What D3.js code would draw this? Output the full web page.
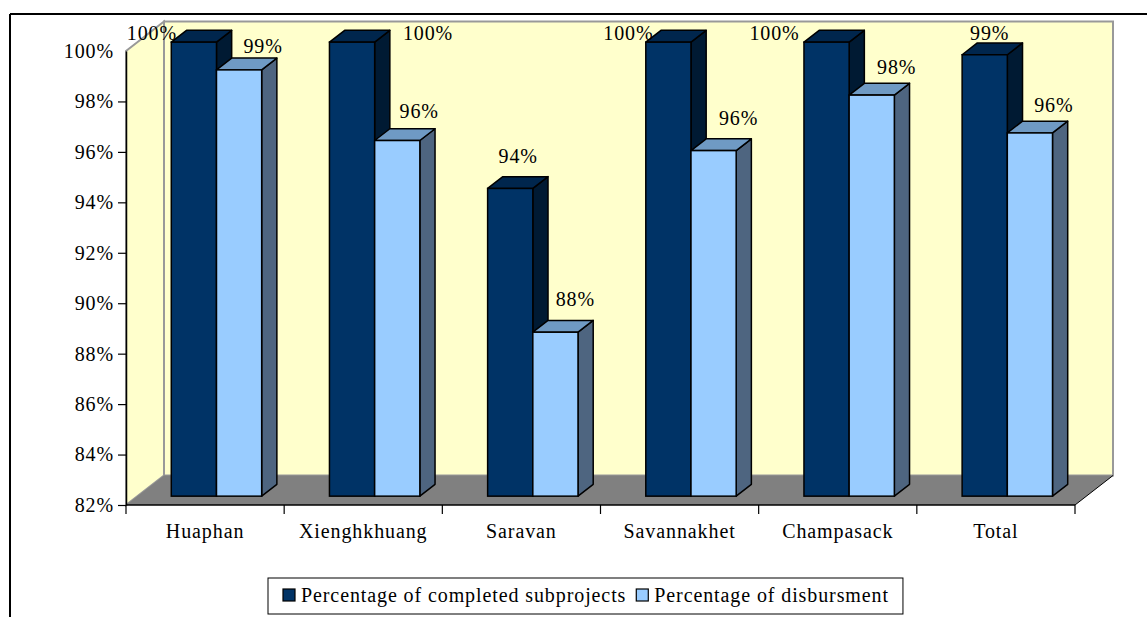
<!DOCTYPE html>
<html>
<head>
<meta charset="utf-8">
<script src="https://cdn.jsdelivr.net/npm/d3@7"></script>
<style>
  html, body { margin: 0; padding: 0; background: #fff; }
  svg { display: block; }
  text { font-family: "Liberation Serif", "Times New Roman", serif; fill: #000; letter-spacing: 0.9px; }
</style>
</head>
<body>
<svg id="chart" width="1147" height="617"></svg>
<script>
// Province-level results
const categories = ["Huaphan", "Xienghkhuang", "Saravan", "Savannakhet", "Champasack", "Total"];
const seriesNames = ["Percentage of completed subprojects", "Percentage of disbursment"];
const completed = [100, 100, 94.2, 100, 100, 99.5];
const disbursed = [98.9, 96.1, 88.5, 95.7, 97.9, 96.4];
const valueLabels = [
  ["100%", "100%", "94%", "100%", "100%", "99%"],
  ["99%", "96%", "88%", "96%", "98%", "96%"]
];
const yTicks = [82, 84, 86, 88, 90, 92, 94, 96, 98, 100];

// Hand-placed label nudges (px) for labels that would crowd the top edge
const labelShiftX = [[-64, 54, -14, -62, -74, -17], [2, 0, -2, 3, 3, 2]];
const labelShiftY = [[0, 0, -3, 0, 0, 0], [5, -1, -4, -4, 1, 1]];

const seriesValues = [completed, disbursed];
const colors = [
  { front: "#003366", top: "#00264d", side: "#001a33" },
  { front: "#99ccff", top: "#6f9ac4", side: "#4e6580" }
];

const svg = d3.select("#chart");

// Front-plane geometry of the 3-D plot box
const left = 126, right = 1075, bottom = 505, topY = 51;
const depth = { x: 38, y: -29.5 };
const barFront = 0.3, barBack = 0.7;

const x = d3.scaleBand().domain(categories).range([left, right]).paddingInner(0).paddingOuter(0);
const xs = d3.scaleBand().domain(d3.range(seriesNames.length)).range([0, x.bandwidth()]).paddingInner(0).paddingOuter(0.75);
const y = d3.scaleLinear().domain([82, 100]).range([bottom, topY]);

const pt = (px, py) => px.toFixed(2) + "," + py.toFixed(2);

// Outer frame
svg.append("line").attr("x1", 10).attr("y1", 14).attr("x2", 1147).attr("y2", 14)
  .attr("stroke", "#000").attr("stroke-width", 2);
svg.append("line").attr("x1", 10).attr("y1", 14).attr("x2", 10).attr("y2", 617)
  .attr("stroke", "#000").attr("stroke-width", 2);

const y100 = y(100), y82 = y(82);
const bx = depth.x, by = depth.y;

// Back wall
svg.append("polygon")
  .attr("points", [pt(left + bx, y100 + by), pt(right + bx, y100 + by), pt(right + bx, y82 + by), pt(left + bx, y82 + by)].join(" "))
  .attr("fill", "#ffffcc").attr("stroke", "#999").attr("stroke-width", 2);
// Side wall
svg.append("polygon")
  .attr("points", [pt(left, y100), pt(left + bx, y100 + by), pt(left + bx, y82 + by), pt(left, y82)].join(" "))
  .attr("fill", "#ffffcc").attr("stroke", "#999").attr("stroke-width", 2);
// Floor
svg.append("polygon")
  .attr("points", [pt(left, y82), pt(right, y82), pt(right + bx, y82 + by), pt(left + bx, y82 + by)].join(" "))
  .attr("fill", "#808080").attr("stroke", "none");
svg.append("line")
  .attr("x1", right).attr("y1", y82).attr("x2", right + bx).attr("y2", y82 + by)
  .attr("stroke", "#000").attr("stroke-width", 1);

// Value axis
const yAxis = svg.append("g")
  .attr("transform", `translate(${left},0)`)
  .call(d3.axisLeft(y).tickValues(yTicks).tickSize(8).tickSizeOuter(0).tickPadding(4).tickFormat(d => d + "%"));
yAxis.select(".domain").attr("stroke", "#000").attr("stroke-width", 1.5);
yAxis.selectAll(".tick line").attr("stroke", "#000").attr("stroke-width", 1.2)
  .attr("display", d => d === 100 ? "none" : null);
yAxis.selectAll(".tick text").attr("font-size", 20).attr("font-family", "Liberation Serif").attr("fill", "#000");

// Category axis
const bounds = categories.map(c => x(c)).concat([right]);
const xAxisG = svg.append("g");
xAxisG.append("line").attr("x1", left).attr("x2", right).attr("y1", y82).attr("y2", y82)
  .attr("stroke", "#000").attr("stroke-width", 1.5);
xAxisG.selectAll("line.tick").data(bounds).join("line").attr("class", "tick")
  .attr("x1", d => d).attr("x2", d => d).attr("y1", y82).attr("y2", y82 + 9)
  .attr("stroke", "#000").attr("stroke-width", 1.2);
xAxisG.selectAll("text").data(categories).join("text")
  .attr("x", d => x(d) + x.bandwidth() / 2).attr("y", 538)
  .attr("text-anchor", "middle").attr("font-size", 20)
  .text(d => d);

// 3-D columns
const fx = depth.x * barFront, fy = depth.y * barFront;
const dx = depth.x * (barBack - barFront), dy = depth.y * (barBack - barFront);
const bars = [];
categories.forEach((c, i) => {
  seriesValues.forEach((vals, s) => {
    bars.push({ c, i, s, v: vals[i] });
  });
});

const barG = svg.append("g");
bars.forEach(b => {
  const x0 = x(b.c) + xs(b.s) + fx;
  const x1 = x0 + xs.bandwidth();
  const yt = y(b.v) + fy;
  const yb = y(82) + fy;
  const col = colors[b.s];
  const g = barG.append("g");
  g.append("polygon").attr("points", [pt(x1, yt), pt(x1 + dx, yt + dy), pt(x1 + dx, yb + dy), pt(x1, yb)].join(" "))
    .attr("fill", col.side).attr("stroke", "#000").attr("stroke-width", 1.5).attr("stroke-linejoin", "round");
  g.append("polygon").attr("points", [pt(x0, yt), pt(x0 + dx, yt + dy), pt(x1 + dx, yt + dy), pt(x1, yt)].join(" "))
    .attr("fill", col.top).attr("stroke", "#000").attr("stroke-width", 1.5).attr("stroke-linejoin", "round");
  g.append("rect").attr("x", x0).attr("y", yt).attr("width", x1 - x0).attr("height", yb - yt)
    .attr("fill", col.front).attr("stroke", "#000").attr("stroke-width", 1.5);
  b.cx = (x0 + x1) / 2;
  b.yt = yt;
});

// Data labels
svg.append("g").selectAll("text").data(bars).join("text")
  .attr("x", b => b.cx + 22 + labelShiftX[b.s][b.i])
  .attr("y", b => Math.max(40, b.yt - 22) + labelShiftY[b.s][b.i])
  .attr("text-anchor", "middle").attr("font-size", 20)
  .text(b => valueLabels[b.s][b.i]);

// Legend
const leg = svg.append("g");
const legBox = leg.append("rect").attr("x", 268).attr("y", 578).attr("width", 632).attr("height", 36)
  .attr("fill", "#fff").attr("stroke", "#000").attr("stroke-width", 1);
let lx = 283;
seriesNames.forEach((name, s) => {
  leg.append("rect").attr("x", lx).attr("y", 589).attr("width", 12).attr("height", 12)
    .attr("fill", colors[s].front).attr("stroke", "#000").attr("stroke-width", 1.2);
  const t = leg.append("text").attr("x", lx + 18).attr("y", 602).attr("font-size", 20).text(name);
  lx += 18 + t.node().getComputedTextLength() + 10;
});
legBox.attr("width", lx - 268 + 4);
</script>
</body>
</html>
